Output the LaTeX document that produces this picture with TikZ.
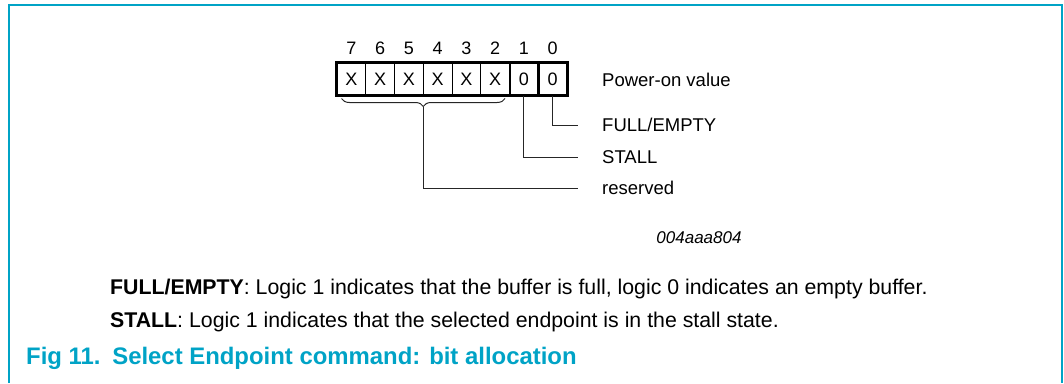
\documentclass[tikz,border=0pt]{standalone}
\usepackage{fontspec}
\setmainfont{Liberation Sans}
\usetikzlibrary{decorations.pathreplacing,calc}
\definecolor{nxp}{RGB}{0,163,198}
\begin{document}
\begin{tikzpicture}[x=1pt,y=-1pt,
  thinline/.style={line width=1pt,black!85},
  thickline/.style={line width=2.6pt},
  cellbox/.style={draw,line width=1pt,minimum width=28.75pt,minimum height=32pt,inner sep=0pt,
     text height=13pt,text depth=0pt,font=\fontsize{18}{20}\selectfont},
  bitnum/.style={inner sep=0pt,text height=13pt,text depth=0pt,font=\fontsize{18}{20}\selectfont},
  lbl/.style={anchor=west,inner sep=0pt,text height=13pt,text depth=0pt,font=\fontsize{18.5}{20}\selectfont},
  bodytxt/.style={anchor=west,inner sep=0pt,text height=15pt,text depth=0pt,font=\fontsize{21.3}{24}\selectfont},
  captxt/.style={anchor=west,inner sep=0pt,text height=17pt,text depth=0pt,text=nxp,font=\fontsize{23.9}{26}\selectfont\bfseries},
  codetxt/.style={inner sep=0pt,text height=12pt,text depth=0pt,font=\fontsize{17}{20}\selectfont\itshape}]
\useasboundingbox (0,0) rectangle (1064,383);
% frame
\draw[nxp,line width=2pt] (9,383) -- (9,4.5) -- (1062,4.5) -- (1062,383);
% cells
\foreach \b/\v [count=\i from 0] in {7/X,6/X,5/X,4/X,3/X,2/X,1/0,0/0}{
  \node[cellbox] (c\b) at ({337+28.75*\i+14.375},79) {\v};
  \node[bitnum] (n\b) at ({337+28.75*\i+14.375},48) {\b};
}
\draw[thickline] (c7.north west) rectangle (c0.south east);
\draw[thickline] (c2.north east) -- (c2.south east);
\draw[thickline] (c1.north east) -- (c1.south east);
% labels
\node[lbl] (pov) at (602,80) {Power-on value};
\node[lbl] (lfe) at (602,125) {FULL/EMPTY};
\node[lbl] (lst) at (602,157) {STALL};
\node[lbl] (lrs) at (602,188) {reserved};
% brace
\draw[thinline,decorate,decoration={brace,mirror,amplitude=8pt}]
  ($(c7.south west)+(5,3)$) -- coordinate[yshift=-8pt] (btip) ($(c2.south east)+(-5,3)$);
% connectors
\draw[thinline] (c0.south) |- ([xshift=-24pt]lfe.west);
\draw[thinline] (c1.south) |- ([xshift=-24pt]lst.west);
\draw[thinline] (btip) |- ([xshift=-24pt]lrs.west);
% code
\node[codetxt] (code) at (699,237) {004aaa804};
% body text
\node[bodytxt] (t1) at (110,287) {\textbf{FULL/EMPTY}: Logic 1 indicates that the buffer is full, logic 0 indicates an empty buffer.};
\node[bodytxt] (t2) at (110,320) {\textbf{STALL}: Logic 1 indicates that the selected endpoint is in the stall state.};
\node[captxt] (cap) at (26,356) {Fig 11.\hspace{0.12em} Select Endpoint command: bit allocation};
\end{tikzpicture}
\end{document}
